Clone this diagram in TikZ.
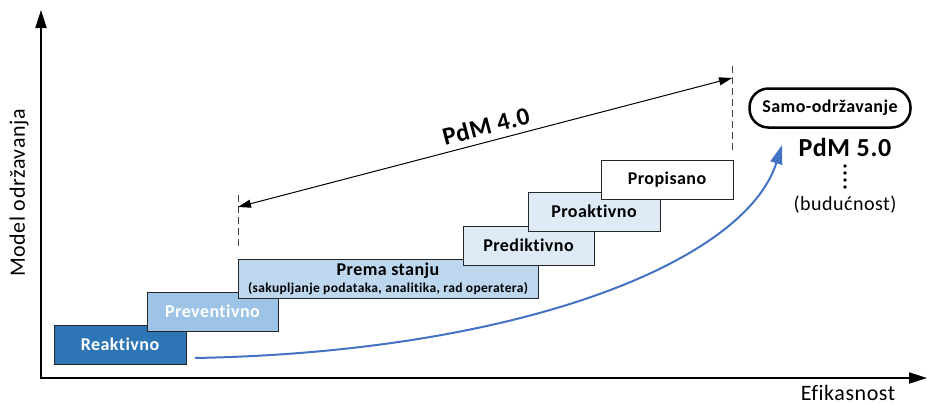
\documentclass[tikz,border=0pt]{standalone}
\usepackage{fontspec}
\setmainfont{Carlito}[Ligatures=NoCommon,LetterSpace=2.5]
\usetikzlibrary{arrows.meta}
\definecolor{darkblue}{HTML}{2E75B6}
\definecolor{midblue}{HTML}{9DC3E6}
\definecolor{paleblue}{HTML}{BDD7EE}
\definecolor{lightblue}{HTML}{DEEBF7}
\definecolor{curveblue}{HTML}{4472C4}
\begin{document}
\begin{tikzpicture}[x=1pt,y=-1pt,
  stage/.style={draw=black!85,line width=1pt,minimum width=132pt,minimum height=39pt,inner sep=0pt,font=\fontsize{18}{20}\selectfont\bfseries},
  axis/.style={line width=2pt,{Triangle[length=18pt,width=11pt]}-{Triangle[length=18pt,width=11pt]}},
  mark line/.style={dashed,dash pattern=on 7pt off 4pt,line width=1pt,black!75}]
\useasboundingbox (0,0) rectangle (928,405);
% axes
\coordinate (ytop) at (41,10);
\coordinate (o) at (41,378);
\coordinate (xend) at (927,378);
\draw[axis] (ytop) -- (o) -- (xend);
\node[rotate=90,font=\fontsize{22}{26}\selectfont] (ylab) at (19,193) {Model održavanja};
\node[font=\fontsize{22}{26}\selectfont] (xlab) at (848,393) {Efikasnost};
% stages, each one laid over the one before
\node[stage,fill=darkblue,text=white] (reak) at (120,344.5) {Reaktivno};
\node[stage,fill=midblue,text=white,minimum width=131pt] (prev) at (212.5,311.5) {Preventivno};
\node[stage,fill=paleblue,minimum width=300pt,align=center] (stanje) at (388,278.5)
  {Prema stanju\\[-3pt]{\fontsize{13.5}{14}\selectfont(sakupljanje podataka, analitika, rad operatera)}};
\node[stage,fill=lightblue,minimum width=131pt] (pred) at (528.5,245.5) {Prediktivno};
\node[stage,fill=lightblue] (proa) at (594,211.5) {Proaktivno};
\node[stage,fill=white] (prop) at (667,180) {Propisano};
% PdM 4.0 span
\coordinate (l1) at (238,195);
\coordinate (l2) at (238,247);
\coordinate (r1) at (732,66);
\coordinate (r2) at (732,150);
\draw[mark line] (l1) -- (l2);
\draw[mark line] (r1) -- (r2);
\coordinate (pl) at (238,207);
\coordinate (pr) at (732,78);
\draw[line width=1pt,{Triangle[length=13pt,width=8pt]}-{Triangle[length=13pt,width=8pt]}] (pl) -- node[pos=0.51,above,sloped,inner sep=6.5pt,font=\fontsize{25}{28}\selectfont\bfseries] (pdm4) {PdM 4.0} (pr);
% future
\node[draw,line width=2.5pt,rounded corners=19pt,minimum width=161pt,minimum height=39pt,inner sep=0pt,font=\fontsize{18}{20}\selectfont\bfseries] (samo) at (830,108) {Samo-održavanje};
\node[font=\fontsize{26}{28}\selectfont\bfseries] (pdm5) at (845,147) {PdM 5.0};
\foreach \y in {166,173,180,187} \fill (845,\y) circle (1.9pt);
\node[font=\fontsize{20}{24}\selectfont] (buduc) at (845,205) {(budućnost)};
% growth curve
\coordinate (c0) at (195,358);
\coordinate (c1) at (782,145);
\draw[curveblue,line width=2pt,-{Triangle[length=19pt,width=12pt]}] (c0) .. controls (520,352) and (745,262) .. (c1);
\end{tikzpicture}
\end{document}
